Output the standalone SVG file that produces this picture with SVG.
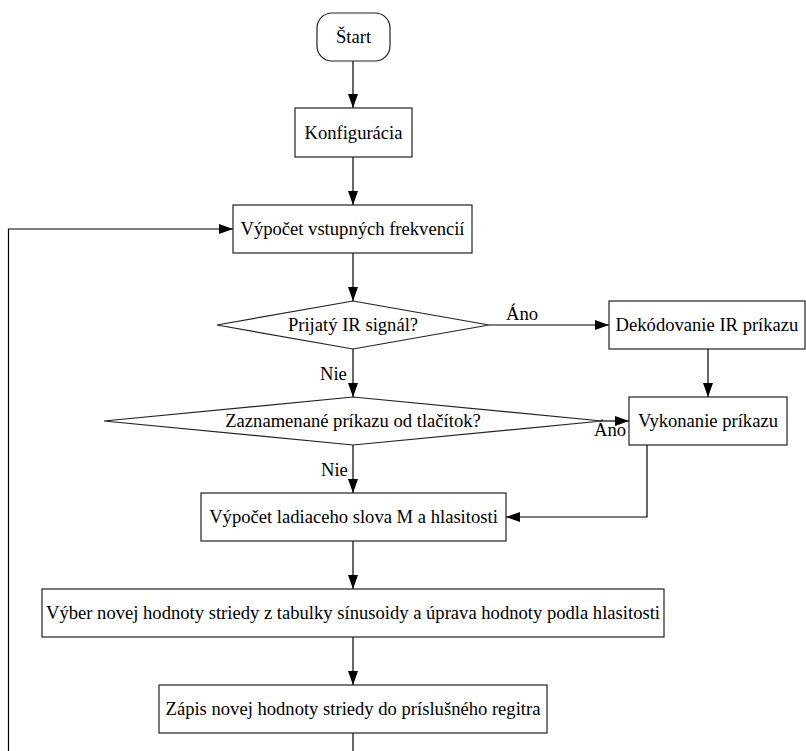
<svg xmlns="http://www.w3.org/2000/svg" width="806" height="751" viewBox="0 0 806 751">
<defs>
<marker id="ah" markerUnits="userSpaceOnUse" markerWidth="14" markerHeight="10" refX="14" refY="5" orient="auto">
<path d="M0,0 L14,5 L0,10 z" fill="#000"/>
</marker>
<style>
.n{fill:#fff;stroke:#222;stroke-width:1.2}
.t{font-family:"Liberation Serif","Times New Roman",serif;font-size:18.6px;fill:#000;text-anchor:middle}
.l{font-family:"Liberation Serif","Times New Roman",serif;font-size:18.6px;fill:#000}
.c{fill:none;stroke:#000;stroke-width:1.2}
.a{marker-end:url(#ah)}
</style>
</defs>
<rect width="806" height="751" fill="#fff"/>
<g id="connectors">
<path class="c a" d="M353,61 V108"/>
<path class="c a" d="M353,157 V205"/>
<path class="c a" d="M353,253 V301"/>
<path class="c a" d="M489,325 H609"/>
<path class="c a" d="M353,349 V397"/>
<path class="c a" d="M708,349 V397"/>
<path class="c a" d="M602,421 H629"/>
<path class="c a" d="M353,445 V493"/>
<path class="c a" d="M647,445 V517 H506"/>
<path class="c a" d="M353,541 V589"/>
<path class="c a" d="M353,637 V685"/>
<path class="c" d="M353,733 V751"/>
<path class="c a" d="M8.5,751 V229 H233"/>
<text class="l" x="506" y="320">Áno</text>
<text class="l" x="320" y="380">Nie</text>
<text class="l" x="594" y="436">Áno</text>
<text class="l" x="321" y="476">Nie</text>
</g>
<g id="start">
<rect class="n" x="317" y="13" width="73" height="48" rx="15"/>
<text class="t" x="353.5" y="43">Štart</text>
</g>
<g id="konfiguracia">
<rect class="n" x="295" y="108" width="117" height="49"/>
<text class="t" x="353.5" y="138.5">Konfigurácia</text>
</g>
<g id="vypocet-frekvencii">
<rect class="n" x="233" y="205" width="239" height="48"/>
<text class="t" x="352.5" y="235">Výpočet vstupných frekvencií</text>
</g>
<g id="prijaty-ir">
<polygon class="n" points="353,301 489,325 353,349 217,325"/>
<text class="t" x="353" y="331">Prijatý IR signál?</text>
</g>
<g id="dekodovanie">
<rect class="n" x="609" y="301" width="196" height="48"/>
<text class="t" x="707" y="331">Dekódovanie IR príkazu</text>
</g>
<g id="zaznamenane">
<polygon class="n" points="353,397 602,421 353,445 104,421"/>
<text class="t" x="353" y="427">Zaznamenané príkazu od tlačítok?</text>
</g>
<g id="vykonanie">
<rect class="n" x="629" y="397" width="158" height="48"/>
<text class="t" x="708" y="427">Vykonanie príkazu</text>
</g>
<g id="ladiace-slovo">
<rect class="n" x="201" y="493" width="305" height="48"/>
<text class="t" x="353.5" y="523">Výpočet ladiaceho slova M a hlasitosti</text>
</g>
<g id="vyber">
<rect class="n" x="42" y="589" width="622" height="48"/>
<text class="t" x="353" y="619">Výber novej hodnoty striedy z tabulky sínusoidy a úprava hodnoty podla hlasitosti</text>
</g>
<g id="zapis">
<rect class="n" x="159" y="685" width="388" height="48"/>
<text class="t" x="353" y="715">Zápis novej hodnoty striedy do príslušného regitra</text>
</g>
</svg>
